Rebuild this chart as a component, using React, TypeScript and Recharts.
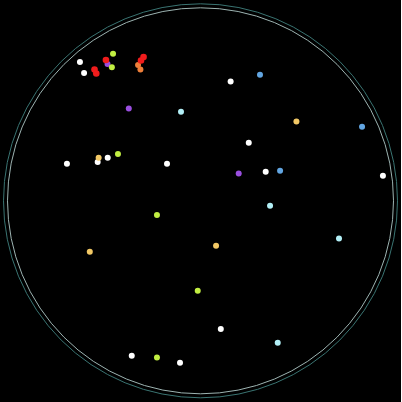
import React from 'react';
import { ScatterChart, Scatter, XAxis, YAxis, ReferenceDot } from 'recharts';

type Star = { x: number; y: number };

// Sky positions, centre of the dial = (0, 0), rim = 100
const whiteStars: Star[] = [
  { x: -61.2, y: 70.5 }, { x: -59.1, y: 64.9 }, { x: 15.3, y: 60.5 }, { x: 24.5, y: 29.5 },
  { x: -67.8, y: 18.8 }, { x: -52.2, y: 19.7 }, { x: -47.1, y: 21.9 }, { x: -17.0, y: 18.8 },
  { x: 33.1, y: 14.8 }, { x: 92.6, y: 12.7 }, { x: 10.3, y: -65.1 }, { x: -34.9, y: -78.6 },
  { x: -10.4, y: -82.2 },
];
const redStars: Star[] = [
  { x: -53.8, y: 66.6 }, { x: -52.9, y: 64.6 }, { x: -48.0, y: 71.5 }, { x: -28.9, y: 73.0 },
  { x: -30.2, y: 71.2 },
];
const purpleStars: Star[] = [
  { x: -47.2, y: 69.4 }, { x: -36.4, y: 46.8 }, { x: 19.4, y: 13.8 },
];
const limeStars: Star[] = [
  { x: -44.4, y: 74.7 }, { x: -45.0, y: 67.8 }, { x: -41.9, y: 23.8 }, { x: -22.1, y: -7.2 },
  { x: -1.4, y: -45.6 }, { x: -22.1, y: -79.6 },
];
const blueStars: Star[] = [
  { x: 30.2, y: 64.0 }, { x: 82.0, y: 37.6 }, { x: 40.4, y: 15.3 },
];
const cyanStars: Star[] = [
  { x: -9.9, y: 45.2 }, { x: 35.3, y: -2.5 }, { x: 70.3, y: -19.2 }, { x: 39.2, y: -72.0 },
];
const yellowStars: Star[] = [
  { x: 48.7, y: 40.3 }, { x: -51.7, y: 21.9 }, { x: -56.2, y: -25.8 }, { x: 7.9, y: -22.8 },
];
const orangeStars: Star[] = [
  { x: -31.7, y: 68.9 }, { x: -30.5, y: 66.6 },
];

const dot = (color: string, r: number) => (p: any) => (
  <circle cx={p.cx} cy={p.cy} r={r} fill={color} />
);

export default function App() {
  return (
    <div style={{ position: 'absolute', left: 0, top: 0, width: 401, height: 402, background: '#000' }}>
      <ScatterChart width={401} height={402} margin={{ top: 3.8, right: 3.5, bottom: 4.2, left: 3.5 }}>
        <XAxis type="number" dataKey="x" domain={[-100, 100]} allowDataOverflow hide />
        <YAxis type="number" dataKey="y" domain={[-100, 100]} allowDataOverflow hide />
        <ReferenceDot x={0} y={0} r={197} fill="none" stroke="#3a7472" strokeWidth={1} />
        <ReferenceDot x={0} y={0} r={193} fill="none" stroke="#9db4b2" strokeWidth={1} />
        <Scatter data={purpleStars} shape={dot('#9a4fe0', 3)} isAnimationActive={false} />
        <Scatter data={whiteStars} shape={dot('#ffffff', 3)} isAnimationActive={false} />
        <Scatter data={limeStars} shape={dot('#c2ee42', 3)} isAnimationActive={false} />
        <Scatter data={blueStars} shape={dot('#62a6e2', 3)} isAnimationActive={false} />
        <Scatter data={cyanStars} shape={dot('#b2eff6', 3)} isAnimationActive={false} />
        <Scatter data={yellowStars} shape={dot('#f2c865', 3)} isAnimationActive={false} />
        <Scatter data={orangeStars} shape={dot('#ee7f3a', 3)} isAnimationActive={false} />
        <Scatter data={redStars} shape={dot('#f01c1c', 3.3)} isAnimationActive={false} />
      </ScatterChart>
    </div>
  );
}
